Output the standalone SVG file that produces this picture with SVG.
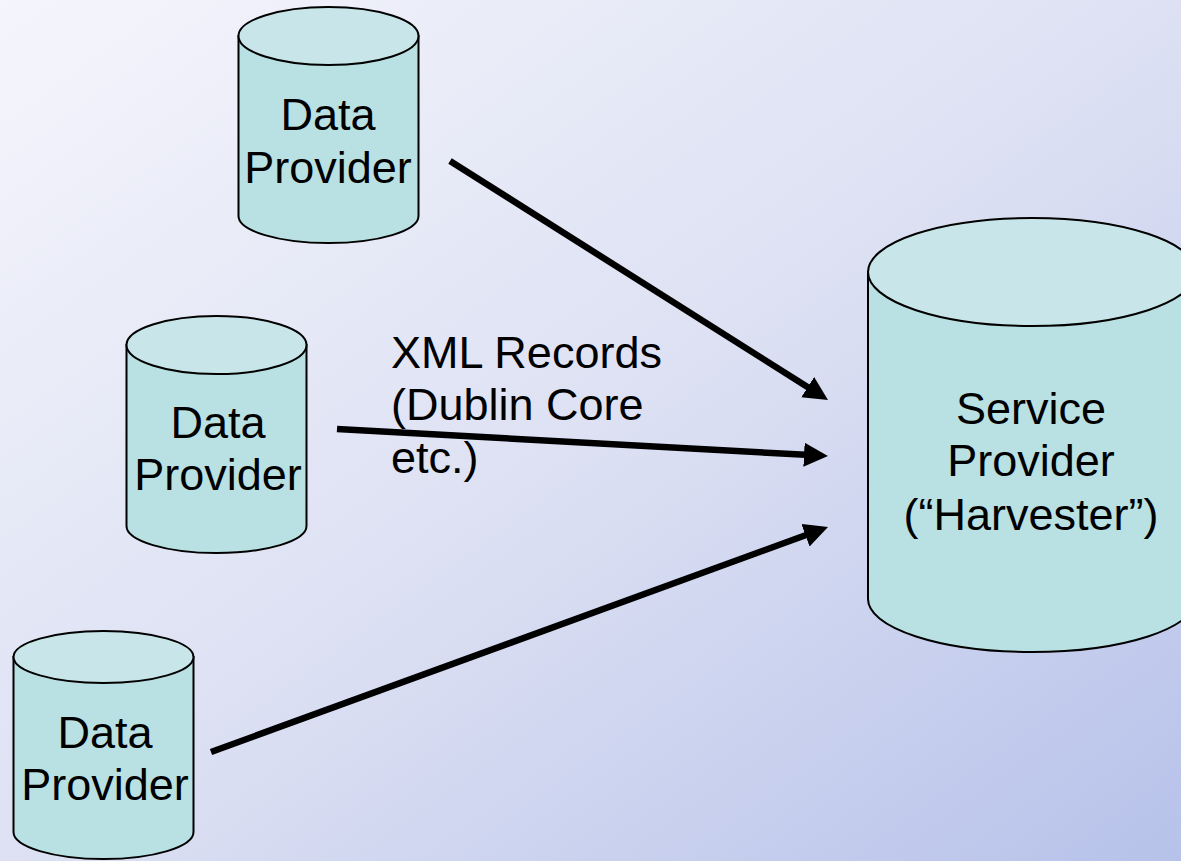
<svg xmlns="http://www.w3.org/2000/svg" width="1181" height="861" viewBox="0 0 1181 861">
<defs>
<linearGradient id="bg" x1="0" y1="0" x2="1" y2="1">
<stop offset="0" stop-color="#f5f5fc"/>
<stop offset="0.5" stop-color="#dde1f3"/>
<stop offset="1" stop-color="#b7c2ea"/>
</linearGradient>
<marker id="ah" markerUnits="userSpaceOnUse" markerWidth="26" markerHeight="26" refX="11" refY="12" orient="auto">
<path d="M0,0 L24,12 L0,24 Z" fill="#000"/>
</marker>
</defs>
<style>
.side{fill:#b9e0e2;stroke:#000;stroke-width:2}
.top{fill:#c8e6e9;stroke:#000;stroke-width:2}
.lbl{font-family:"Liberation Sans",Arial,sans-serif;font-size:45px;fill:#000}
.mid{text-anchor:middle}
.conn{stroke:#000;stroke-width:6.5;fill:none;marker-end:url(#ah)}
</style>
<rect width="1181" height="861" fill="url(#bg)"/>
<g id="dp1">
<path class="side" d="M238.5,36 L238.5,216 A90,27 0 0 0 418.5,216 L418.5,36 Z"/>
<ellipse class="top" cx="328.5" cy="36" rx="90" ry="29"/>
<text class="lbl mid" x="328" y="130">Data</text>
<text class="lbl mid" x="328" y="183">Provider</text>
</g>
<g id="dp2">
<path class="side" d="M126.5,345 L126.5,526 A90,27 0 0 0 306.5,526 L306.5,345 Z"/>
<ellipse class="top" cx="216.5" cy="345" rx="90" ry="29"/>
<text class="lbl mid" x="218" y="438">Data</text>
<text class="lbl mid" x="218" y="490">Provider</text>
</g>
<g id="dp3">
<path class="side" d="M13.5,657 L13.5,832 A90,27 0 0 0 193.5,832 L193.5,657 Z"/>
<ellipse class="top" cx="103.5" cy="657" rx="90" ry="26"/>
<text class="lbl mid" x="105" y="748">Data</text>
<text class="lbl mid" x="105" y="800">Provider</text>
</g>
<g id="sp">
<path class="side" d="M868,272 L868,599 A164,53 0 0 0 1196,599 L1196,272 Z"/>
<ellipse class="top" cx="1032" cy="272" rx="164" ry="54"/>
<text class="lbl mid" x="1031" y="424">Service</text>
<text class="lbl mid" x="1031" y="476">Provider</text>
<text class="lbl mid" x="1031" y="530">(“Harvester”)</text>
</g>
<g id="connectors">
<line class="conn" x1="450" y1="161" x2="817" y2="393"/>
<line class="conn" x1="337" y1="429" x2="815" y2="455.3"/>
<line class="conn" x1="211" y1="752" x2="815.8" y2="531.5"/>
</g>
<g id="label">
<text class="lbl" x="391" y="368">XML Records</text>
<text class="lbl" x="391" y="420">(Dublin Core</text>
<text class="lbl" x="391" y="473">etc.)</text>
</g>
</svg>
